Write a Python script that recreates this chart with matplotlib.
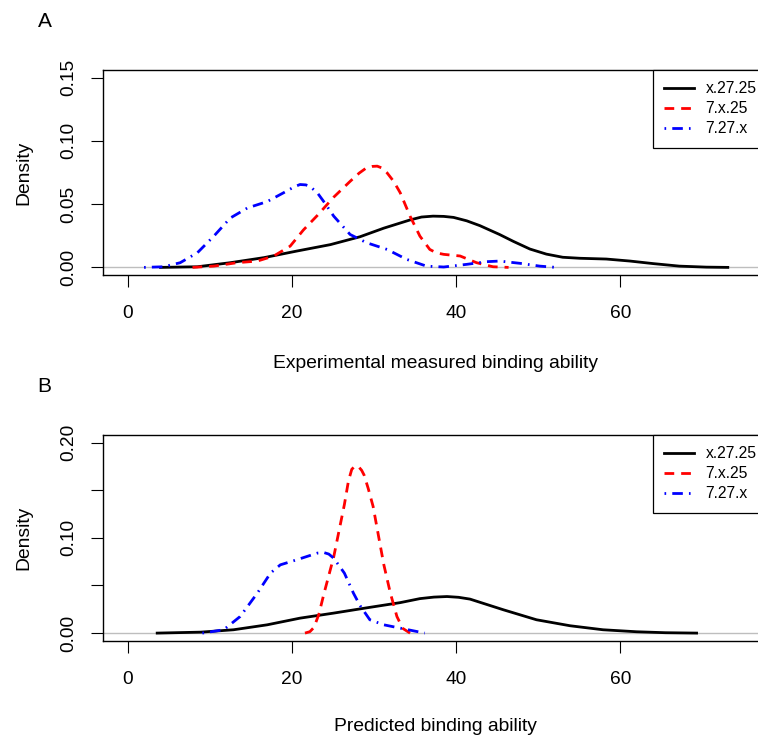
import matplotlib.pyplot as plt

plt.rcParams['font.family'] = ['Liberation Sans', 'DejaVu Sans']

labels = ['x.27.25', '7.x.25', '7.27.x']

# Panel A - experimental measured binding ability
a_black_x = [4.0, 8.5, 12.5, 16.6, 20.6, 24.7, 28.3, 31.2, 34.4, 35.8, 37.2, 38.5, 39.7, 41.3,
             42.9, 45.3, 47.0, 49.0, 51.0, 53.0, 55.1, 58.3, 61.2, 64.0, 67.2, 70.5, 73.1]
a_black_y = [0, 0.0005, 0.0037, 0.0077, 0.0129, 0.018, 0.0242, 0.031, 0.0375, 0.0398, 0.0405,
             0.0403, 0.0395, 0.0368, 0.033, 0.026, 0.0205, 0.0145, 0.0105, 0.008, 0.0072, 0.0066,
             0.005, 0.003, 0.001, 0.0002, 0]
a_red_x = [7.9, 10.5, 13.3, 15.8, 17.8, 19.8, 21.4, 23.1, 25.1, 27.1, 28.2, 29.1, 29.8, 30.4, 31.0,
           31.6, 32.4, 33.2, 34.4, 35.6, 36.8, 37.6, 38.5, 40.5, 42.5, 44.5, 46.4]
a_red_y = [0, 0.001, 0.0037, 0.005, 0.009, 0.0168, 0.0295, 0.041, 0.0555, 0.068, 0.0745, 0.0787,
           0.0798, 0.080, 0.0785, 0.0747, 0.068, 0.059, 0.0405, 0.0247, 0.0142, 0.0115, 0.0103,
           0.009, 0.0037, 0.0005, 0]
a_blue_x = [2.0, 4.4, 6.4, 8.5, 10.5, 12.5, 14.6, 17.0, 19.0, 20.3, 21.0, 21.7, 22.2, 23.1, 24.0,
            25.1, 27.1, 29.1, 31.6, 34.0, 36.4, 38.5, 41.3, 43.7, 45.3, 47.8, 50.2, 52.2]
a_blue_y = [0, 0.0005, 0.0037, 0.0116, 0.0247, 0.039, 0.047, 0.052, 0.059, 0.0637, 0.0655,
            0.0652, 0.064, 0.059, 0.051, 0.0405, 0.026, 0.0195, 0.0142, 0.0063, 0.001, 0.0003,
            0.0024, 0.0045, 0.005, 0.0032, 0.001, 0]

# Panel B - predicted binding ability
b_black_x = [3.6, 8.9, 12.9, 17.0, 21.0, 25.1, 29.1, 33.2, 35.6, 37.3, 38.9, 40.3, 41.7, 45.8,
             49.8, 53.9, 57.9, 62.0, 65.5, 69.3]
b_black_y = [0, 0.001, 0.0035, 0.0087, 0.0157, 0.021, 0.0265, 0.032, 0.0362, 0.0378, 0.0384,
             0.0376, 0.0357, 0.0244, 0.014, 0.0077, 0.0035, 0.0014, 0.0004, 0]
b_red_x = [21.6, 22.2, 22.7, 23.3, 23.9, 25.1, 26.4, 26.9, 27.3, 27.7, 28.1, 28.5, 28.8, 29.3,
           29.9, 30.6, 31.2, 32.0, 32.8, 33.5, 34.4]
b_red_y = [0, 0.0015, 0.006, 0.02, 0.041, 0.08, 0.135, 0.16, 0.172, 0.1755, 0.175, 0.171, 0.166,
           0.152, 0.133, 0.10, 0.072, 0.042, 0.0174, 0.005, 0]
b_blue_x = [9.1, 11.7, 13.7, 15.8, 17.4, 18.6, 20.6, 23.1, 23.9, 24.5, 25.1, 26.4, 27.5, 28.3,
            29.5, 31.2, 33.2, 34.8, 36.2]
b_blue_y = [0, 0.0035, 0.0174, 0.042, 0.063, 0.0717, 0.077, 0.084, 0.0846, 0.083, 0.0787, 0.063,
            0.042, 0.029, 0.014, 0.0087, 0.0052, 0.0024, 0]

fig = plt.figure(figsize=(7.58, 7.39), dpi=100)


def density_panel(rect, curves, ylim, yticks, ylabels, xlabel, tag, xpad):
    ax = fig.add_axes(rect)
    ax.axhline(0, color='#bebebe', lw=1, zorder=1)
    styles = [dict(color='black', ls='-'),
              dict(color='red', ls=(0, (3.5, 2.5))),
              dict(color='blue', ls=(0, (0.6, 2.2, 3.8, 2.2)))]
    for (x, y), st, lab in zip(curves, styles, labels):
        ax.plot(x, y, lw=2, label=lab, **st)
    ax.set_xlim(-3, 78)
    ax.set_ylim(*ylim)
    ax.set_xticks([0, 20, 40, 60])
    ax.set_yticks(yticks)
    ax.set_yticklabels(ylabels, rotation=90, va='center')
    ax.tick_params(length=8.5, width=0.8, labelsize=13.8)
    ax.tick_params(axis='x', pad=13)
    ax.tick_params(axis='y', pad=10)
    for s in ax.spines.values():
        s.set_linewidth(1)
    ax.set_xlabel(xlabel, fontsize=13.9, labelpad=xpad)
    ax.set_ylabel('Density', fontsize=13.9, labelpad=20)
    leg = ax.legend(loc='upper right', borderaxespad=0, fancybox=False, framealpha=1,
                    edgecolor='black', fontsize=11.3, handlelength=1.9, handletextpad=0.75,
                    labelspacing=0.32, borderpad=0.72)
    leg.get_frame().set_linewidth(0.9)
    fig.text(0.059, rect[1] + rect[3] + 0.066, tag, fontsize=15, ha='center', va='center')
    return ax


density_panel([0.1359, 0.6279, 0.8773, 0.2774],
              [(a_black_x, a_black_y), (a_red_x, a_red_y), (a_blue_x, a_blue_y)],
              (-0.006, 0.156), [0, 0.05, 0.10, 0.15], ['0.00', '0.05', '0.10', '0.15'],
              'Experimental measured binding ability', 'A', 24)

density_panel([0.1359, 0.1330, 0.8773, 0.2783],
              [(b_black_x, b_black_y), (b_red_x, b_red_y), (b_blue_x, b_blue_y)],
              (-0.008, 0.208), [0, 0.05, 0.10, 0.15, 0.20], ['0.00', '', '0.10', '', '0.20'],
              'Predicted binding ability', 'B', 22)

plt.savefig('out.png', dpi=100)
